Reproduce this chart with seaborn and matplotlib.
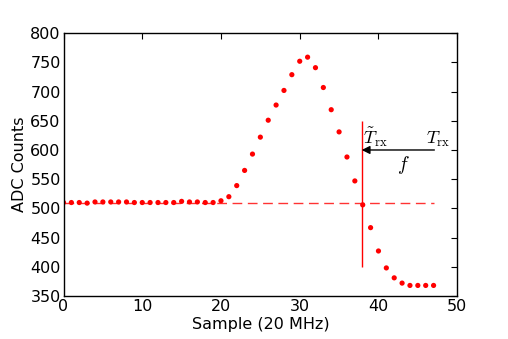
import numpy as np
import pandas as pd
import matplotlib
matplotlib.use("Agg")
import matplotlib.pyplot as plt
import seaborn as sns

samples = list(range(48))
adc_counts = [510, 510, 510, 509, 511, 511, 511, 511, 511, 510,
              510, 510, 510, 510, 510, 512, 511, 511, 510, 510,
              513, 520, 539, 565, 593, 622, 651, 677, 702, 729,
              752, 759, 741, 707, 669, 631, 588, 547, 506, 467,
              427, 398, 381, 372, 368, 368, 368, 368]
baseline_x = [0, 47]
baseline_y = [510, 510]
cross_x = 37.87
cross_ymin, cross_ymax = 400, 650
arrow_y = 600
arrow_start = 47.1

sns.set_style("white")
plt.rcParams.update({
    "font.family": ["DejaVu Sans"],
    "mathtext.fontset": "cm",
    "text.color": "black",
    "axes.labelcolor": "black",
    "xtick.color": "black",
    "ytick.color": "black",
    "xtick.direction": "in",
    "ytick.direction": "in",
    "xtick.top": True,
    "ytick.right": True,
    "xtick.major.size": 4,
    "ytick.major.size": 4,
    "axes.edgecolor": "black",
    "axes.linewidth": 1.0,
})

df = pd.DataFrame({"sample": samples, "adc": adc_counts})

fig = plt.figure(figsize=(5.08, 3.39), dpi=100)
ax = fig.add_axes([0.125, 0.127, 0.775, 0.775])

sns.lineplot(x=baseline_x, y=baseline_y, ax=ax, color="red", linestyle=(0, (7, 4)),
             linewidth=1.0, alpha=0.8)
sns.scatterplot(data=df, x="sample", y="adc", ax=ax, color="red", s=14,
                edgecolor="none", linewidth=0)
ax.vlines(cross_x, cross_ymin, cross_ymax, color="red", linewidth=1.0)
ax.annotate("", xy=(cross_x, arrow_y), xytext=(arrow_start, arrow_y),
            arrowprops=dict(arrowstyle="-|>", color="black", lw=1.0,
                            mutation_scale=12, shrinkA=0, shrinkB=0))
ax.text(46.1, 602, r"$T_{\rm rx}$", fontsize=13, ha="left", va="bottom")
ax.text(38.0, 602, r"$\tilde{T}_{\rm rx}$", fontsize=13, ha="left", va="bottom")
ax.text(42.3, 593, r"$f$", fontsize=14, ha="left", va="top")

ax.set_xlim(0, 50)
ax.set_ylim(350, 800)
ax.set_xticks(range(0, 51, 10))
ax.set_yticks(range(350, 801, 50))
ax.tick_params(labelsize=11.5, pad=2)
ax.set_xlabel("Sample (20 MHz)", fontsize=11.5, labelpad=2)
ax.set_ylabel("ADC Counts", fontsize=11.5, labelpad=2)

fig.savefig("out.png", dpi=100)
